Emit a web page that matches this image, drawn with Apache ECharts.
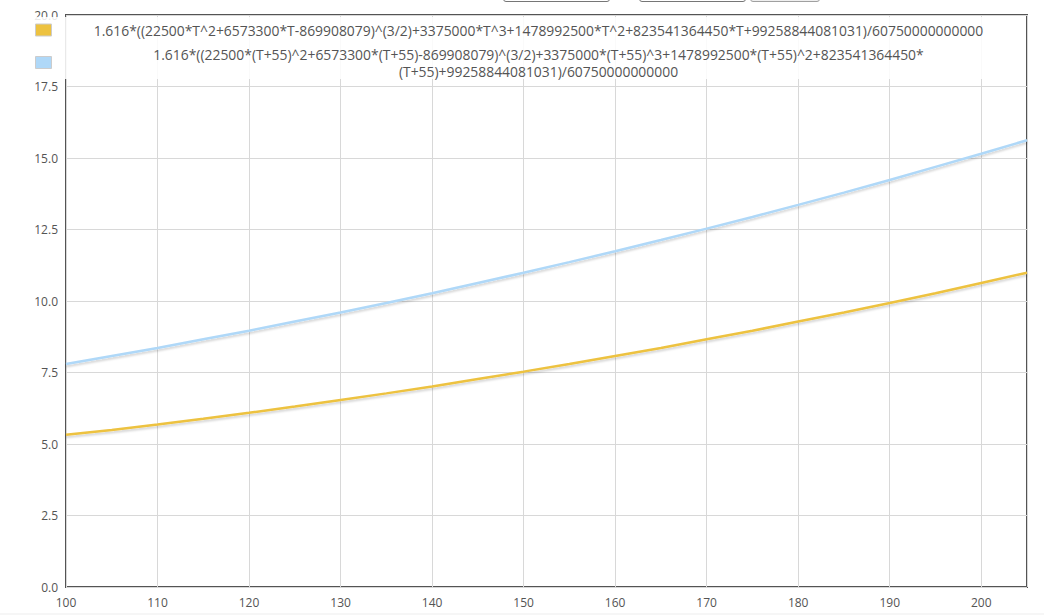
<!DOCTYPE html>
<html>
<head>
<meta charset="utf-8">
<script src="https://cdn.jsdelivr.net/npm/echarts@6/dist/echarts.min.js"></script>
<style>
  html, body { margin: 0; padding: 0; background: #fff; }
  #chart { position: absolute; left: 0; top: 0; width: 1044px; height: 615px; }
  .ui { position: absolute; top: -20px; height: 22px; border: 1px solid #767676; border-radius: 3px; background: #fff; box-sizing: border-box; }
  .btn { background: #efefef; border-color: #a0a0a0; }
  #foot { position: absolute; left: 0; bottom: 0; width: 1044px; height: 2px; background: #f6f6f6; }
</style>
</head>
<body>
<div id="chart"></div>
<div class="ui" style="left:503px;width:107px;"></div>
<div class="ui" style="left:639px;width:107px;"></div>
<div class="ui btn" style="left:750px;width:70px;"></div>
<div id="foot"></div>
<script>
// ---- data ----
const tValues = [100,105,110,115,120,125,130,135,140,145,150,155,160,165,170,175,180,185,190,195,200,205];
const seriesNames = [
  "1.616*((22500*T^2+6573300*T-869908079)^(3/2)+3375000*T^3+1478992500*T^2+823541364450*T+99258844081031)/60750000000000",
  "1.616*((22500*(T+55)^2+6573300*(T+55)-869908079)^(3/2)+3375000*(T+55)^3+1478992500*(T+55)^2+823541364450*(T+55)+99258844081031)/60750000000000"
];
const legendLines = [
  ["1.616*((22500*T^2+6573300*T-869908079)^(3/2)+3375000*T^3+1478992500*T^2+823541364450*T+99258844081031)/60750000000000"],
  ["1.616*((22500*(T+55)^2+6573300*(T+55)-869908079)^(3/2)+3375000*(T+55)^3+1478992500*(T+55)^2+823541364450*",
   "(T+55)+99258844081031)/60750000000000"]
];
const orangeValues = [5.32,5.49,5.68,5.88,6.09,6.31,6.54,6.77,7.01,7.27,7.53,7.80,8.08,8.36,8.66,8.96,9.28,9.60,9.93,10.27,10.63,10.99];
const blueValues   = [7.80,8.08,8.36,8.66,8.96,9.28,9.60,9.93,10.27,10.63,10.99,11.36,11.74,12.13,12.53,12.94,13.36,13.79,14.23,14.69,15.15,15.62];
const xTicks = {min: 100, max: 205, interval: 10};
const yTicks = {min: 0, max: 20, interval: 2.5};
const colors = ['#edc240', '#afd8f8'];

const FONT = '"Open Sans", "Noto Sans", sans-serif';
const chart = echarts.init(document.getElementById('chart'), null, {renderer: 'svg'});

function pairs(xs, ys) { return xs.map((x, i) => [x, ys[i]]); }

const lineSeries = [orangeValues, blueValues].map((vals, i) => ({
  name: seriesNames[i],
  type: 'line',
  data: pairs(tValues, vals),
  showSymbol: false,
  symbol: 'none',
  smooth: false,
  color: colors[i],
  itemStyle: {color: colors[i]},
  lineStyle: {width: 2.5, color: colors[i], shadowColor: 'rgba(0,0,0,0.18)', shadowBlur: 2, shadowOffsetY: 2},
  z: 2,
  animation: false
}));

chart.setOption({
  animation: false,
  textStyle: {fontFamily: FONT},
  grid: {left: 66, right: 17, top: 15, bottom: 28, show: true, borderColor: '#545454', borderWidth: 2, backgroundColor: 'transparent'},
  xAxis: {
    type: 'value', min: xTicks.min, max: xTicks.max, interval: xTicks.interval,
    axisLine: {show: false}, axisTick: {show: false},
    axisLabel: {color: '#545454', fontSize: 12, fontFamily: FONT, margin: 9, showMaxLabel: false},
    splitLine: {show: true, lineStyle: {color: '#d8d8d8', width: 1}}
  },
  yAxis: {
    type: 'value', min: yTicks.min, max: yTicks.max, interval: yTicks.interval,
    axisLine: {show: false}, axisTick: {show: false},
    axisLabel: {color: '#545454', fontSize: 12, fontFamily: FONT, margin: 8, formatter: v => v.toFixed(1)},
    splitLine: {show: true, lineStyle: {color: '#d8d8d8', width: 1}}
  },
  graphic: [{
    type: 'rect', left: 31, top: 17, z: 3,
    shape: {width: 960, height: 62},
    style: {fill: 'rgba(255,255,255,0.87)'}
  }],
  legend: {
    show: true,
    orient: 'vertical',
    left: 30, top: 18,
    padding: 5,
    itemGap: 10,
    itemWidth: 16, itemHeight: 12,
    icon: 'rect',
    itemStyle: {borderColor: '#cccccc', borderWidth: 1},
    z: 4,
    data: seriesNames.map(n => ({name: n, icon: 'rect'})),
    formatter: function (name) {
      const idx = seriesNames.indexOf(name);
      return '{t|' + legendLines[idx].join('\n') + '}';
    },
    textStyle: {
      rich: {t: {width: 964, align: 'center', fontSize: 13.9, lineHeight: 17, fontFamily: FONT, color: '#545454'}}
    },
    selectedMode: false
  },
  series: lineSeries
});
</script>
</body>
</html>
